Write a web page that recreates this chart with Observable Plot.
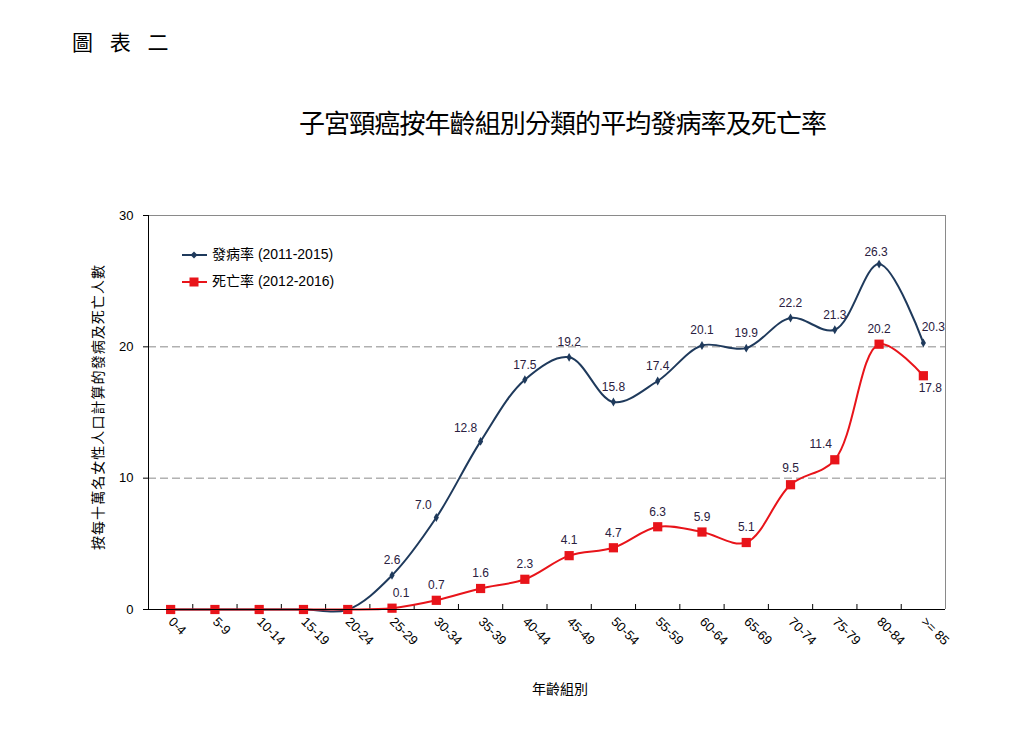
<!DOCTYPE html>
<html><head><meta charset="utf-8">
<script src="https://cdn.jsdelivr.net/npm/d3@7"></script>
<script src="https://cdn.jsdelivr.net/npm/@observablehq/plot@0.6"></script>
<style>
body{margin:0;background:#fff;}
#wrap{position:relative;width:1013px;height:729px;overflow:hidden;font-family:"Liberation Sans","Noto Sans CJK TC",sans-serif;color:#000;}
.abs{position:absolute;white-space:nowrap;}
#chart{position:absolute;left:0;top:0;}
</style></head><body>
<div id="wrap">
  <div id="chart"></div>
  <div class="abs" id="fig" style="left:72px;top:27px;font-family:'Noto Sans CJK TC',sans-serif;font-size:21px;line-height:28px;"></div>
  <div class="abs" id="title" style="left:299px;top:105px;font-family:'Noto Sans CJK TC',sans-serif;font-size:26px;line-height:34px;"></div>
  <div class="abs" id="ylab" style="left:97px;top:407px;transform:translate(-50%,-50%) rotate(-90deg);font-family:'Noto Sans CJK TC',sans-serif;font-size:14px;line-height:18px;"></div>
  <div class="abs" id="xlab" style="left:560px;top:688px;transform:translate(-50%,-50%);font-family:'Noto Sans CJK TC',sans-serif;font-size:14px;line-height:18px;"></div>
  <div class="abs" id="legend" style="left:182px;top:241px;font-size:14px;line-height:27px;"></div>
</div>
<script>
// ---- data ----
const figureLabel = "圖 表 二";
const chartTitle = "子宮頸癌按年齡組別分類的平均發病率及死亡率";
const yAxisLabel = "按每十萬名女性人口計算的發病及死亡人數";
const xAxisLabel = "年齡組別";
const ages = ["0-4","5-9","10-14","15-19","20-24","25-29","30-34","35-39","40-44","45-49","50-54","55-59","60-64","65-69","70-74","75-79","80-84",">= 85"];
const incidence = [0,0,0,0,0,2.6,7.0,12.8,17.5,19.2,15.8,17.4,20.1,19.9,22.2,21.3,26.3,20.3];
const mortality = [0,0,0,0,0,0.1,0.7,1.6,2.3,4.1,4.7,6.3,5.9,5.1,9.5,11.4,20.2,17.8];
const seriesNames = ["發病率 (2011-2015)", "死亡率 (2012-2016)"];
const yTicks = [0, 10, 20, 30];
const gridValues = [10, 20];

// ---- styles ----
const colors = ["#1f3a5c", "#e8141a"];
const symbols = ["diamond", "square"];
const radii = [2.7, 5.2];
const labelColor = "#2a2040";
// label nudges in pixels, keyed by series index and category
const labelNudge = {
  "0|30-34": [-13, -12], "0|35-39": [-15, -13], "0|80-84": [-3, -12], "0|>= 85": [10, -16],
  "1|25-29": [9, -15], "1|75-79": [-14, -16], "1|>= 85": [7, 12], "1|70-74": [0, -17]
};

function setFitted(id, text, targetWidth) {
  const el = document.getElementById(id);
  el.textContent = text;
  el.style.letterSpacing = "0px";
  const w = el.offsetWidth;
  const n = Array.from(text).length;
  el.style.letterSpacing = ((targetWidth - w) / (n - 1)) + "px";
}
setFitted("fig", figureLabel, 96);
setFitted("title", chartTitle, 528);
setFitted("ylab", yAxisLabel, 285);
document.getElementById("xlab").textContent = xAxisLabel;

// legend
const leg = document.getElementById("legend");
seriesNames.forEach((name, s) => {
  const row = document.createElement("div");
  row.style.display = "flex"; row.style.alignItems = "center"; row.style.height = "27px";
  const sym = s === 0
    ? `<polygon points="12,3.5 15.5,7 12,10.5 8.5,7" fill="${colors[0]}"/>`
    : `<rect x="7.5" y="2.5" width="9" height="9" fill="${colors[1]}"/>`;
  row.innerHTML = `<svg width="25" height="14" style="margin-right:5px"><line x1="0" x2="25" y1="7" y2="7" stroke="${colors[s]}" stroke-width="2"/>${sym}</svg><span>${name}</span>`;
  leg.appendChild(row);
});

const series = [incidence, mortality];
const rows = [];
series.forEach((vals, s) => vals.forEach((v, i) => rows.push({i, age: ages[i], value: v, s})));

const boundaries = d3.range(1, ages.length).map(i => i - 0.5);
const W = 1013, H = 729, mL = 148, mR = 68, mT = 215, mB = 120;
const innerH = H - mT - mB;

const marks = [
  Plot.ruleY(gridValues, {stroke: "#8a8a8a", strokeDasharray: "8,4", strokeWidth: 1}),
  Plot.ruleY([yTicks[yTicks.length - 1]], {stroke: "#8a8a8a"}),
  Plot.ruleX([ages.length - 0.5], {stroke: "#8a8a8a"}),
  Plot.ruleX(boundaries, {stroke: "#000", insetTop: innerH - 5}),
  Plot.axisY({ticks: yTicks, tickSize: 5, tickPadding: 10, fontSize: 13, label: null, fontFamily: "Liberation Sans, Arial, sans-serif"}),
  Plot.axisX({ticks: d3.range(ages.length), tickFormat: i => ages[i], tickSize: 0, tickPadding: 10, tickRotate: 45, fontSize: 13, label: null, fontFamily: "Liberation Sans, Arial, sans-serif"}),
];
[0, 1].forEach(s => {
  const d = rows.filter(r => r.s === s);
  marks.push(Plot.line(d, {x: "i", y: "value", stroke: colors[s], strokeWidth: 2, curve: "catmull-rom"}));
  marks.push(Plot.dot(d, {x: "i", y: "value", symbol: symbols[s], r: radii[s], fill: colors[s], stroke: "none"}));
});
marks.push(Plot.ruleX([-0.5], {stroke: "#000"}));
marks.push(Plot.ruleY([0], {stroke: "#000"}));
rows.filter(r => r.value > 0).forEach(r => {
  const [dx, dy] = labelNudge[r.s + "|" + r.age] || [0, -15];
  marks.push(Plot.text([r], {x: "i", y: "value", text: d => d3.format(".1f")(d.value), dx, dy, fill: labelColor, fontSize: 12, fontFamily: "Liberation Sans, Arial, sans-serif"}));
});

const chart = Plot.plot({
  width: W, height: H,
  marginLeft: mL, marginRight: mR, marginTop: mT, marginBottom: mB,
  style: {background: "transparent", fontFamily: "Liberation Sans, Arial, sans-serif", color: "#000"},
  x: {type: "linear", domain: [-0.5, ages.length - 0.5]},
  y: {domain: [0, 30]},
  marks
});
document.getElementById("chart").appendChild(chart);
</script>
</body></html>
